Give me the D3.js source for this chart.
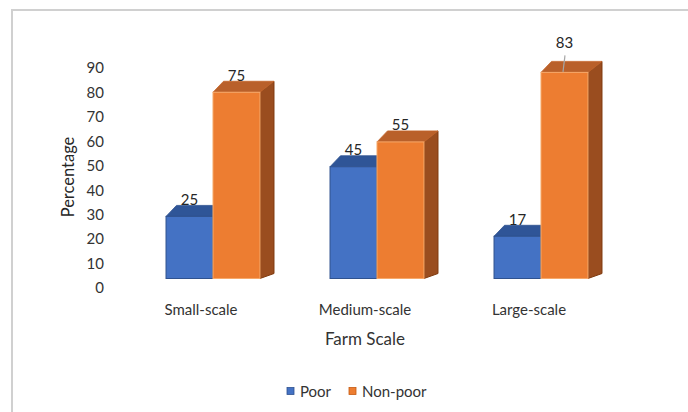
<!DOCTYPE html>
<html>
<head>
<meta charset="utf-8">
<script src="https://cdn.jsdelivr.net/npm/d3@7/dist/d3.min.js"></script>
<style>
  html, body { margin: 0; padding: 0; background: #fff; }
  svg { display: block; font-family: Lato, "Open Sans", sans-serif; }
</style>
</head>
<body>
<svg id="chart" width="688" height="412"></svg>
<script>
// Share of households by farm scale and poverty status
const categories = ["Small-scale", "Medium-scale", "Large-scale"];
const seriesNames = ["Poor", "Non-poor"];
const poorValues = [25, 45, 17];
const nonPoorValues = [75, 55, 83];
const yTickValues = [0, 10, 20, 30, 40, 50, 60, 70, 80, 90];

const palette = {
  "Poor":     { front: "#4472c4", top: "#2f5597", side: "#2a4c85", edge: "#2f528f" },
  "Non-poor": { front: "#ed7d31", top: "#b9602a", side: "#9a4d1f", edge: "#f6a96b", sideEdge: "#7f3a0e" }
};

const rows = [];
categories.forEach((c, i) => {
  rows.push({ cat: c, series: "Poor", value: poorValues[i] });
  rows.push({ cat: c, series: "Non-poor", value: nonPoorValues[i] });
});

const svg = d3.select("#chart");

// frame line around the chart area
svg.append("path")
  .attr("d", "M12,412 L12,10 L688,10")
  .attr("fill", "none")
  .attr("stroke", "#d0d0d0")
  .attr("stroke-width", 2);

const x0 = d3.scaleBand()
  .domain(categories)
  .range([131, 623])
  .paddingInner(0.427)
  .paddingOuter(0.2135);

const x1 = d3.scaleBand()
  .domain(seriesNames)
  .range([0, x0.bandwidth()]);

// front faces of the columns
const yBar = d3.scaleLinear().domain([0, 90]).range([278.5, 55]);
// value axis labels sit on the back wall
const yAxisScale = d3.scaleLinear().domain([0, 90]).range([288, 68]);

// depth offsets of the 3-D columns
const dxL = 10.5, dxR = 14, dyTop = -11, dyBottom = -5;

const bars = svg.append("g");
seriesNames.forEach(s => {
  const g = bars.append("g");
  const data = rows.filter(r => r.series === s);
  const col = palette[s];
  data.forEach(d => {
    const xl = x0(d.cat) + x1(s);
    const xr = xl + x1.bandwidth();
    const yt = yBar(d.value);
    const yb = yBar(0);
    // side face
    g.append("path")
      .attr("d", `M${xr},${yt} L${xr + dxR},${yt + dyTop} L${xr + dxR},${yb + dyBottom} L${xr},${yb} Z`)
      .attr("fill", col.side)
      .attr("stroke", col.sideEdge || col.edge)
      .attr("stroke-width", 1)
      .attr("stroke-linejoin", "round");
    // top face
    g.append("path")
      .attr("d", `M${xl},${yt} L${xl + dxL},${yt + dyTop} L${xr + dxR},${yt + dyTop} L${xr},${yt} Z`)
      .attr("fill", col.top)
      .attr("stroke", s === "Poor" ? "#2f528f" : "#c4652a")
      .attr("stroke-width", 0.8)
      .attr("stroke-linejoin", "round");
    // front face
    g.append("rect")
      .attr("x", xl)
      .attr("y", yt)
      .attr("width", x1.bandwidth())
      .attr("height", yb - yt)
      .attr("fill", col.front)
      .attr("stroke", col.edge)
      .attr("stroke-width", 1);
  });
});

// data labels
const labelLift = { "Large-scale|Non-poor": 19 };
rows.forEach(d => {
  const cx = x0(d.cat) + x1(d.series) + x1.bandwidth() / 2;
  const backTop = yBar(d.value) + dyTop;
  const lift = labelLift[d.cat + "|" + d.series] || 6.5;
  const ly = backTop - lift;
  if (labelLift[d.cat + "|" + d.series]) {
    svg.append("line")
      .attr("x1", cx + 0.5).attr("y1", ly + 13)
      .attr("x2", cx - 1.5).attr("y2", yBar(d.value) - 0.5)
      .attr("stroke", "#a6a6a6")
      .attr("stroke-width", 1.2);
  }
  svg.append("text")
    .attr("x", cx)
    .attr("y", ly)
    .attr("text-anchor", "middle")
    .attr("dominant-baseline", "central")
    .attr("font-size", 15)
    .attr("fill", "#262626")
    .text(d.value);
});

// value axis
const yAxis = d3.axisLeft(yAxisScale)
  .tickValues(yTickValues)
  .tickSize(0)
  .tickPadding(0);
const ya = svg.append("g")
  .attr("transform", "translate(104,0)")
  .call(yAxis);
ya.select(".domain").remove();
ya.selectAll("text")
  .attr("font-size", 15)
  .attr("font-family", "Lato, sans-serif")
  .attr("fill", "#333333");

// category labels
svg.append("g").selectAll("text")
  .data(categories)
  .join("text")
  .attr("x", c => x0(c) + x0.bandwidth() / 2 - 12)
  .attr("y", 309)
  .attr("text-anchor", "middle")
  .attr("dominant-baseline", "central")
  .attr("font-size", 15)
  .attr("fill", "#333333")
  .text(c => c);

// axis titles
svg.append("text")
  .attr("transform", "translate(68,177) rotate(-90)")
  .attr("text-anchor", "middle")
  .attr("dominant-baseline", "central")
  .attr("font-size", 16.5)
  .attr("fill", "#262626")
  .text("Percentage");

svg.append("text")
  .attr("x", 365)
  .attr("y", 338)
  .attr("text-anchor", "middle")
  .attr("dominant-baseline", "central")
  .attr("font-size", 17)
  .attr("fill", "#333333")
  .text("Farm Scale");

// legend
const legend = svg.append("g").attr("transform", "translate(287,391)");
const legendItems = [
  { name: "Poor", x: 0 },
  { name: "Non-poor", x: 62 }
];
legendItems.forEach(it => {
  legend.append("rect")
    .attr("x", it.x).attr("y", -3.5)
    .attr("width", 7).attr("height", 7)
    .attr("fill", palette[it.name].front)
    .attr("stroke", it.name === "Poor" ? "#2f528f" : "#c55a11")
    .attr("stroke-width", 0.8);
  legend.append("text")
    .attr("x", it.x + 13)
    .attr("y", 0)
    .attr("dominant-baseline", "central")
    .attr("font-size", 15)
    .attr("fill", "#333333")
    .text(it.name);
});
</script>
</body>
</html>
